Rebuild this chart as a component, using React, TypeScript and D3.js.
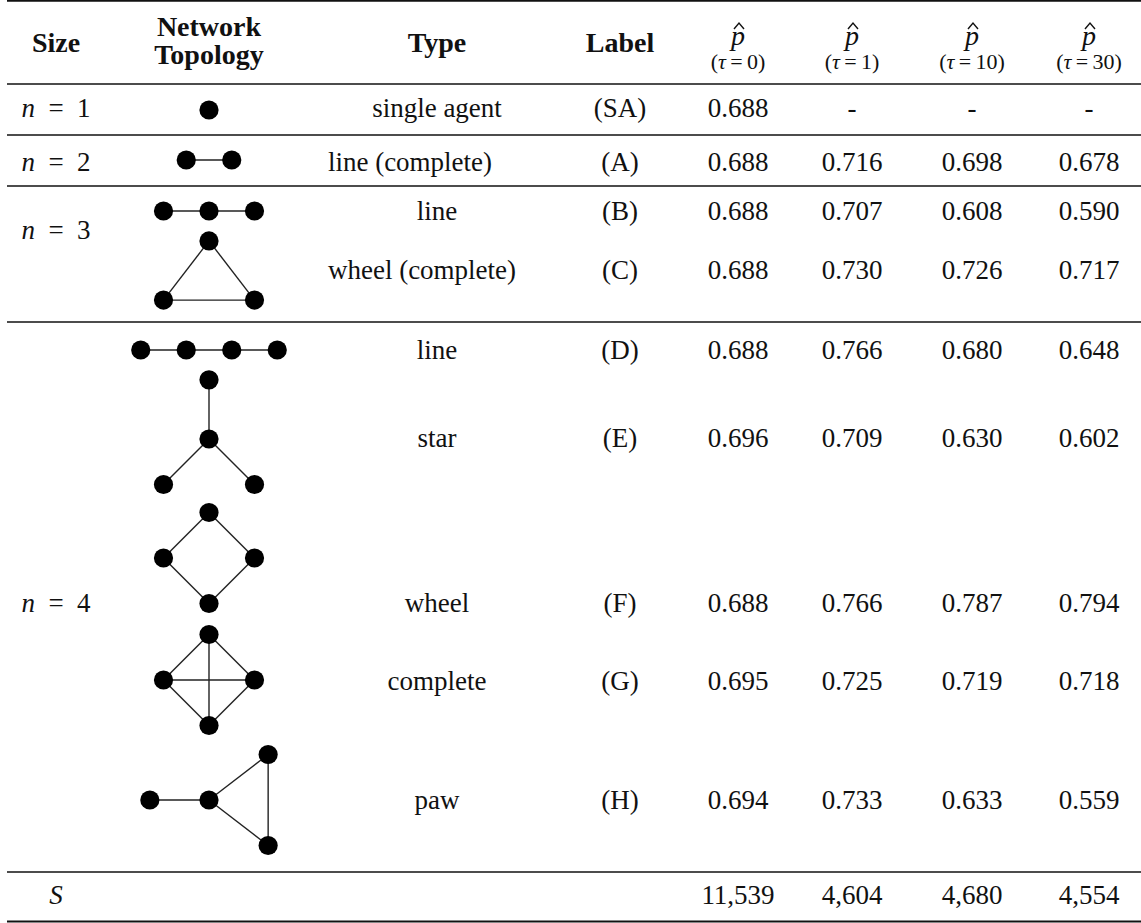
import React from 'react';
import * as d3 from 'd3';

// ---------- data ----------
const sizeGroups = ['1', '2', '3', '4'];
const types = ['single agent', 'line (complete)', 'line', 'wheel (complete)', 'line', 'star', 'wheel', 'complete', 'paw'];
const labels = ['(SA)', '(A)', '(B)', '(C)', '(D)', '(E)', '(F)', '(G)', '(H)'];
const taus = [0, 1, 10, 30];
const pTau0 = [0.688, 0.688, 0.688, 0.688, 0.688, 0.696, 0.688, 0.695, 0.694];
const pTau1 = [null, 0.716, 0.707, 0.730, 0.766, 0.709, 0.766, 0.725, 0.733];
const pTau10 = [null, 0.698, 0.608, 0.726, 0.680, 0.630, 0.787, 0.719, 0.633];
const pTau30 = [null, 0.678, 0.590, 0.717, 0.648, 0.602, 0.794, 0.718, 0.559];
const sampleSizes = [11539, 4604, 4680, 4554];

// topology graphs in unit coordinates
const topoNodes: [number, number][][] = [
  [[0, 0]],
  [[-0.5, 0], [0.5, 0]],
  [[-1, 0], [0, 0], [1, 0]],
  [[0, -0.65], [-1, 0.65], [1, 0.65]],
  [[-1.5, 0], [-0.5, 0], [0.5, 0], [1.5, 0]],
  [[0, -1.3], [0, 0], [-1, 1], [1, 1]],
  [[0, -1], [-1, 0], [1, 0], [0, 1]],
  [[0, -1], [-1, 0], [1, 0], [0, 1]],
  [[-1.3, 0], [0, 0], [1.3, -1], [1.3, 1]],
];
const topoEdges: [number, number][][] = [
  [],
  [[0, 1]],
  [[0, 1], [1, 2]],
  [[0, 1], [0, 2], [1, 2]],
  [[0, 1], [1, 2], [2, 3]],
  [[0, 1], [1, 2], [1, 3]],
  [[0, 1], [1, 3], [3, 2], [2, 0]],
  [[0, 1], [1, 3], [3, 2], [2, 0], [0, 3], [1, 2]],
  [[0, 1], [1, 2], [1, 3], [2, 3]],
];

// ---------- layout ----------
const W = 1141;
const H = 923;
const rowY = [108, 162, 211, 270, 350, 438, 603, 681, 800];
const sRowY = 895;
const sizeY = [108, 162, 230, 603];
const diagramY = [110, 160, 211, 270.5, 350, 439, 558, 680, 800];
const typeDx = [0, -27, 0, -15, 0, 0, 0, 0, 0];
const rules = [
  { y: 0.8, w: 2 },
  { y: 84, w: 1.5 },
  { y: 135, w: 1.5 },
  { y: 186, w: 1.5 },
  { y: 322, w: 1.5 },
  { y: 872, w: 1.5 },
  { y: 921.5, w: 2 },
];

const colX = { size: 56, topo: 209, type: 437, label: 620 };
const valueX = d3.scaleOrdinal<number, number>().domain(taus).range([738, 852, 972, 1089]);
const unit = 45.5;
const ux = d3.scaleLinear().domain([0, 1]).range([colX.topo, colX.topo + unit]);
const uy = d3.scaleLinear().domain([0, 1]).range([0, unit]);

const FONT = "'Liberation Serif', 'Times New Roman', serif";
const FS = 27;
const BASE = 9; // baseline offset from visual centre
const fmt = d3.format('.3f');
const fmtInt = d3.format(',');

const series = [pTau0, pTau1, pTau10, pTau30];

function hatPath(cx: number) {
  const p = d3.path();
  p.moveTo(cx - 4, 29);
  p.lineTo(cx + 1, 23);
  p.lineTo(cx + 6, 29);
  return p.toString();
}

export default function App() {
  return (
    <svg
      width={W}
      height={H}
      viewBox={`0 0 ${W} ${H}`}
      style={{ position: 'absolute', left: 0, top: 0, background: '#fff' }}
      fontFamily={FONT}
    >
      <rect x={0} y={0} width={W} height={H} fill="#fff" />
      {rules.map((r, i) => (
        <line key={i} x1={7} x2={W} y1={r.y} y2={r.y} stroke="#111" strokeWidth={r.w} />
      ))}

      {/* header */}
      <g fontWeight="bold" fontSize={28} fill="#111" textAnchor="middle">
        <text x={colX.size} y={52}>Size</text>
        <text x={colX.topo} y={36}>Network</text>
        <text x={colX.topo} y={64}>Topology</text>
        <text x={colX.type} y={52}>Type</text>
        <text x={colX.label} y={52}>Label</text>
      </g>
      {taus.map((t) => (
        <g key={t} fill="#111" textAnchor="middle">
          <path d={hatPath(valueX(t))} fill="none" stroke="#111" strokeWidth={1.4} />
          <text x={valueX(t)} y={45} fontSize={28} fontStyle="italic">p</text>
          <text x={valueX(t)} y={69} fontSize={22}>
            (<tspan fontStyle="italic">τ</tspan>{'\u2009=\u2009'}{t})
          </text>
        </g>
      ))}

      {/* size column */}
      <g fontSize={FS} fill="#111" textAnchor="middle">
        {sizeGroups.map((s, i) => (
          <text key={s} x={colX.size} y={sizeY[i] + BASE}>
            <tspan fontStyle="italic">n</tspan>{'\u2002=\u2002'}{s}
          </text>
        ))}
        <text x={colX.size} y={sRowY + BASE} fontStyle="italic">S</text>
      </g>

      {/* topologies */}
      {topoNodes.map((nodes, i) => (
        <g key={i} transform={`translate(0,${diagramY[i]})`}>
          {topoEdges[i].map(([a, b], j) => (
            <line
              key={j}
              x1={ux(nodes[a][0])}
              y1={uy(nodes[a][1])}
              x2={ux(nodes[b][0])}
              y2={uy(nodes[b][1])}
              stroke="#222"
              strokeWidth={1.4}
            />
          ))}
          {nodes.map((n, j) => (
            <circle key={j} cx={ux(n[0])} cy={uy(n[1])} r={9.6} fill="#000" />
          ))}
        </g>
      ))}

      {/* type, label, values */}
      <g fontSize={FS} fill="#111" textAnchor="middle">
        {types.map((t, i) => (
          <text key={'t' + i} x={colX.type + typeDx[i]} y={rowY[i] + BASE}>{t}</text>
        ))}
        {labels.map((l, i) => (
          <text key={'l' + i} x={colX.label} y={rowY[i] + BASE}>{l}</text>
        ))}
        {series.map((vals, k) =>
          vals.map((v, i) => (
            <text key={`v${k}-${i}`} x={valueX(taus[k])} y={rowY[i] + BASE}>
              {v == null ? '-' : fmt(v)}
            </text>
          ))
        )}
        {sampleSizes.map((s, k) => (
          <text key={'s' + k} x={valueX(taus[k])} y={sRowY + BASE}>{fmtInt(s)}</text>
        ))}
      </g>
    </svg>
  );
}
